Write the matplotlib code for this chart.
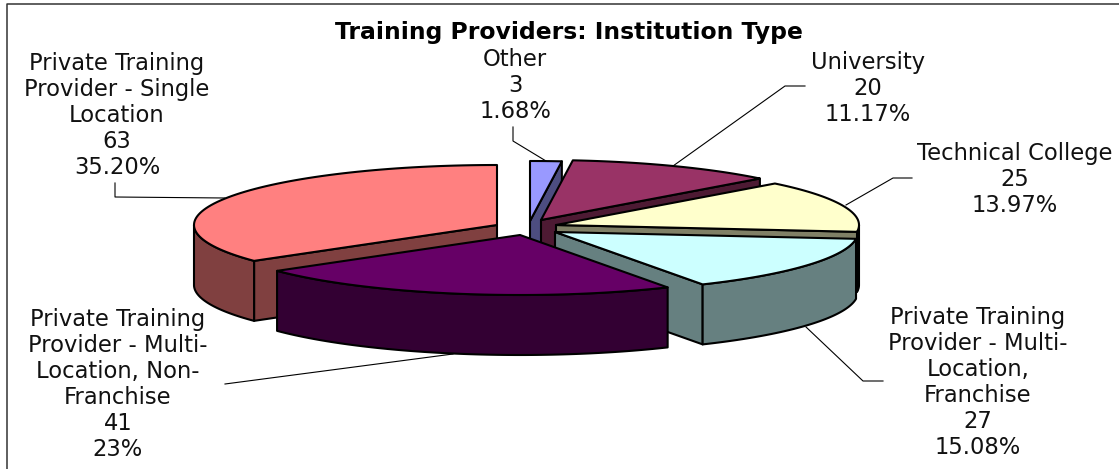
import numpy as np
import matplotlib
matplotlib.use('Agg')  # Non-interactive backend
import matplotlib.pyplot as plt
from matplotlib.patches import Polygon
from matplotlib.colors import to_rgb

# data, clockwise from 12 o'clock
categories = ['Other', 'University', 'Technical College',
              'Private Training Provider - Multi-Location, Franchise',
              'Private Training Provider - Multi-Location, Non-Franchise',
              'Private Training Provider - Single Location']
counts = [3, 20, 25, 27, 41, 63]
percents = ['1.68%', '11.17%', '13.97%', '15.08%', '23%', '35.20%']

# wrapped category names as they appear in the labels
label_lines = [
    ['Other'],
    ['University'],
    ['Technical College'],
    ['Private Training', 'Provider - Multi-', 'Location,', 'Franchise'],
    ['Private Training', 'Provider - Multi-', 'Location, Non-', 'Franchise'],
    ['Private Training', 'Provider - Single', 'Location'],
]

# styles and layout (pixels)
colors = ['#9999FF', '#993366', '#FFFFCC', '#CCFFFF', '#660066', '#FF8080']
apex = [(530, 221), (541, 220), (556, 225), (555, 232), (520, 235), (497, 225)]
label_pos = [(515, 57), (868, 60), (1015, 151), (978, 315), (118, 317), (117, 61)]
leaders = [
    [(513, 127), (513, 141), (546, 161)],
    [(805, 86), (785, 86), (673, 166)],
    [(912, 178), (893, 178), (846, 205)],
    [(883, 381), (863, 381), (806, 327)],
    [(225, 384), (453, 354)],
    [(115, 183), (115, 197), (225, 198)],
]
RX, RY, DEPTH = 303, 60, 60
LINE_PITCH = 25.9
FONT = 'DejaVu Sans'


def rim(cx, cy, a, b, n=80):
    t = np.radians(np.linspace(a, b, n))
    return np.column_stack([cx + RX * np.sin(t), cy - RY * np.cos(t)])


def draw_slice(ax, cx, cy, a, b, color):
    side = tuple(c * 0.5 for c in to_rgb(color))
    kw = dict(edgecolor='black', linewidth=1.5, joinstyle='round')
    # cut faces, only the ones turned towards the viewer
    for ang, normal in ((a, a - 90), (b, b + 90)):
        if np.cos(np.radians(normal)) < -1e-6:
            end = rim(cx, cy, ang, ang, 1)[0]
            pts = [(cx, cy), end, (end[0], end[1] + DEPTH), (cx, cy + DEPTH)]
            ax.add_patch(Polygon(pts, facecolor=side, **kw))
    # outer wall, front half of the ellipse
    lo, hi = max(a, 90), min(b, 270)
    if lo < hi:
        top = rim(cx, cy, lo, hi)
        bottom = top + [0, DEPTH]
        ax.add_patch(Polygon(np.vstack([top, bottom[::-1]]), facecolor=side, **kw))
    # top face
    pts = np.vstack([[(cx, cy)], rim(cx, cy, a, b)])
    ax.add_patch(Polygon(pts, facecolor=color, **kw))


fig = plt.figure(figsize=(11.19, 4.69), dpi=100)
ax = fig.add_axes([0, 0, 1, 1])
ax.set_xlim(0, 1119)
ax.set_ylim(469, 0)
ax.axis('off')

# chart frame
ax.plot([7, 7, 1119], [469, 4, 4], color='#333333', linewidth=1.1)

edges = np.concatenate([[0], np.cumsum(counts)]) / sum(counts) * 360

# leaders go under the pie
for pts in leaders:
    xs, ys = zip(*pts)
    ax.plot(xs, ys, color='black', linewidth=0.8, zorder=1)

# painter's order: back slice first, front slice last
for i in [5, 0, 1, 2, 3, 4]:
    draw_slice(ax, apex[i][0], apex[i][1], edges[i], edges[i + 1], colors[i])

for i, lines in enumerate(label_lines):
    x, y = label_pos[i]
    for j, line in enumerate(lines + [str(counts[i]), percents[i]]):
        ax.text(x, y + j * LINE_PITCH, line, ha='center', va='center_baseline',
                family=FONT, fontsize=16.3, color='#111111')

ax.text(569, 30, 'Training Providers: Institution Type', ha='center', va='center_baseline',
        family=FONT, fontsize=16.9, fontweight='bold', color='black')

fig.savefig('out.png', dpi=100)
plt.close(fig)
